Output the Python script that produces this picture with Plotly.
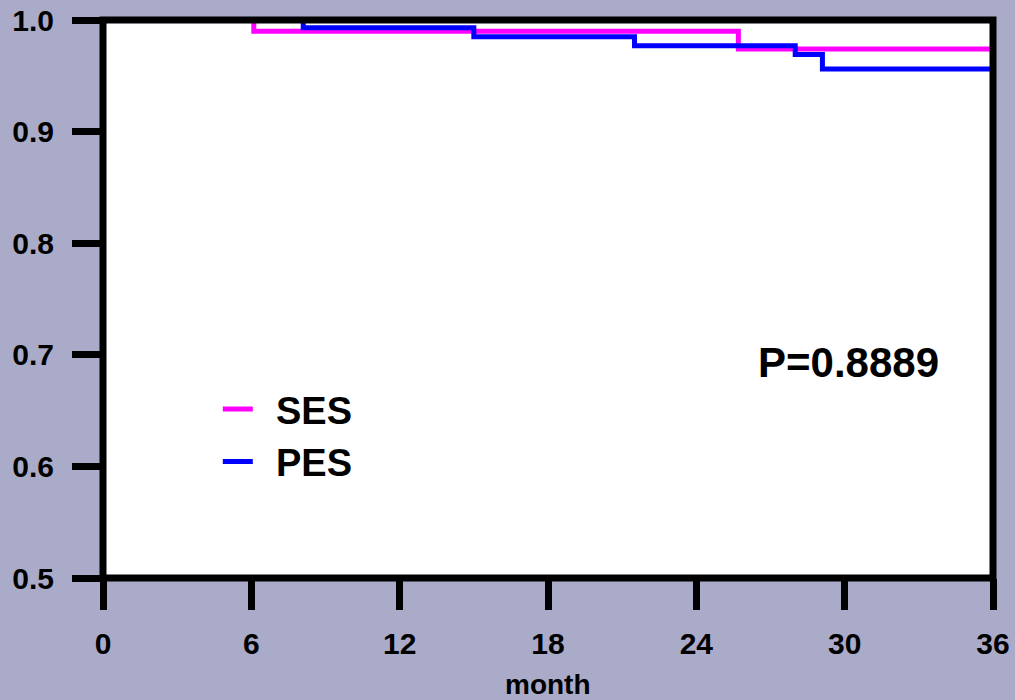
import plotly.graph_objects as go

# Kaplan-Meier step data (months, survival)
ses_t = [0, 6.1, 25.7, 36]
ses_s = [1.0, 0.990, 0.974, 0.974]
pes_t = [0, 8.1, 15.0, 21.5, 28.0, 29.1, 36]
pes_s = [1.0, 0.993, 0.985, 0.977, 0.969, 0.956, 0.956]

series_names = ["SES", "PES"]
x_ticks = [0, 6, 12, 18, 24, 30, 36]
y_ticks = [0.5, 0.6, 0.7, 0.8, 0.9, 1.0]
p_text = "P=0.8889"

FONT = "Arial, Liberation Sans, sans-serif"
GAP = "\u00a0\u2009"

fig = go.Figure()
fig.add_trace(go.Scatter(x=ses_t, y=ses_s, mode="lines", name=GAP + series_names[0],
                         line=dict(color="#ff00ff", width=5, shape="hv")))
fig.add_trace(go.Scatter(x=pes_t, y=pes_s, mode="lines", name=GAP + series_names[1],
                         line=dict(color="#0000ff", width=5, shape="hv")))

fig.update_layout(
    width=1015, height=700,
    margin=dict(l=103, r=22, t=20, b=122, autoexpand=False),
    paper_bgcolor="#aaabc8",
    plot_bgcolor="white",
    showlegend=True,
    legend=dict(x=0.129, y=0.3586, xanchor="left", yanchor="top",
                bgcolor="rgba(0,0,0,0)",
                font=dict(family=FONT, size=38, color="black", weight="bold"),
                tracegroupgap=0),
    xaxis=dict(range=[0, 36], tickvals=x_ticks, ticks="outside", ticklen=31,
               tickwidth=7, tickcolor="black", showgrid=False, zeroline=False,
               showline=False, ticklabelstandoff=8, automargin=False,
               tickfont=dict(family=FONT, size=30, color="black", weight="bold")),
    yaxis=dict(range=[0.5, 1.0], tickvals=y_ticks, tickformat=".1f",
               ticks="outside", ticklen=30, tickwidth=7, tickcolor="black",
               showgrid=False, zeroline=False, showline=False,
               ticklabelstandoff=12, automargin=False,
               tickfont=dict(family=FONT, size=30, color="black", weight="bold")),
    shapes=[dict(type="rect", xref="paper", yref="paper", x0=0, y0=0, x1=1, y1=1,
                 line=dict(color="black", width=7), layer="above")],
    annotations=[
        dict(text="month", xref="paper", yref="paper", x=0.5, y=-0.19,
             xanchor="center", yanchor="middle", showarrow=False,
             font=dict(family=FONT, size=28, color="black", weight="bold")),
        dict(text=p_text, xref="x", yref="y", x=30.16, y=0.693,
             xanchor="center", yanchor="middle", showarrow=False,
             font=dict(family=FONT, size=42, color="black", weight="bold")),
    ],
)

fig.write_html("out.html", config={"displayModeBar": False},
               post_script="document.body.style.margin='0px';"
                           "document.body.style.overflow='hidden';")
